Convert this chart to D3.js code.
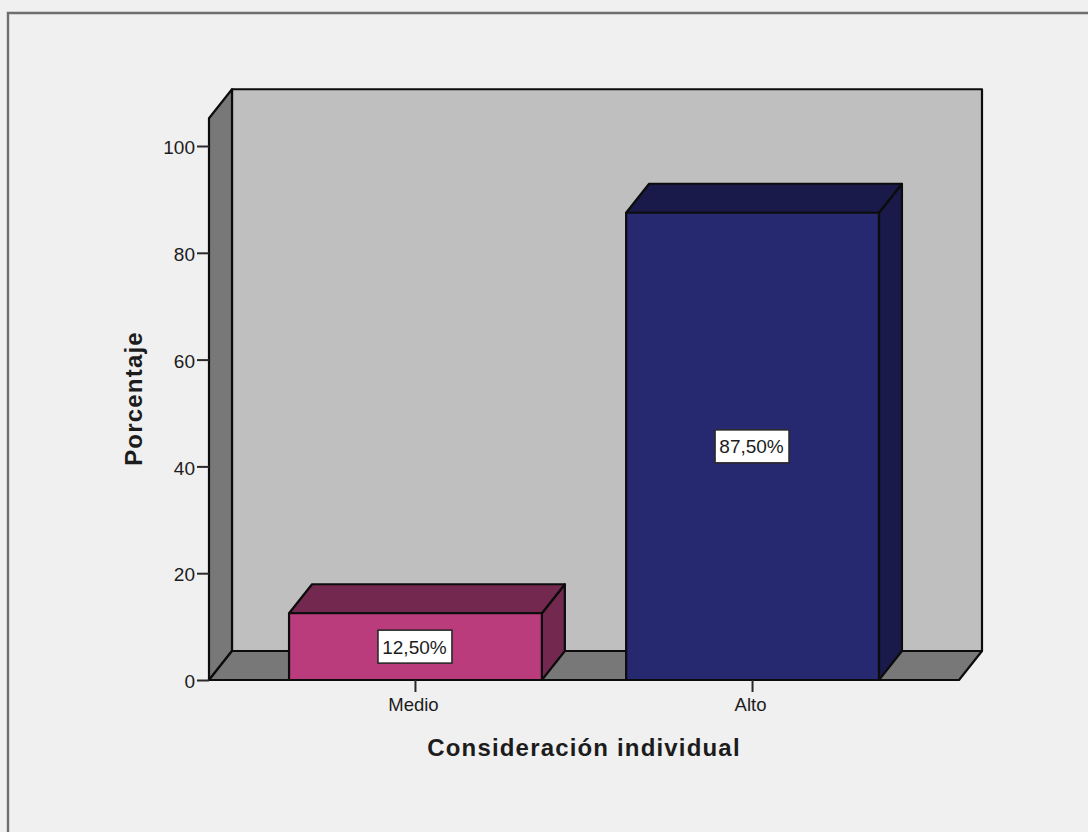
<!DOCTYPE html>
<html><head><meta charset="utf-8">
<script src="https://cdn.jsdelivr.net/npm/d3@7"></script>
<style>html,body{margin:0;padding:0;background:#f0f0f0}svg{display:block}text{font-family:"Liberation Sans",Arial,sans-serif;fill:#1c1c1c}</style>
</head><body><svg id="c" width="1088" height="832"></svg>
<script>
const categories = ["Medio", "Alto"];
const values = [12.5, 87.5];
const valueLabels = ["12,50%", "87,50%"];
const yTicks = [0, 20, 40, 60, 80, 100];
const frontColors = ["#bb3c7c", "#262870"];
const topColors = ["#73284f", "#191a4a"];
const yTitle = "Porcentaje";
const xTitle = "Consideración individual";

const svg = d3.select("#c");
const W = 1088, H = 832;
const x0 = 209, x1 = 959, yBase = 680, yHundred = 146;
const dx = 23, dy = -29;
const y = d3.scaleLinear().domain([0, 100]).range([yBase, yHundred]);
const yMax = 105.2;
const x = d3.scaleBand().domain(categories).range([x0, x1]).paddingInner(0.25).paddingOuter(0.2375);
const stroke = "#0c0c0c";
const poly = (pts, fill, sw = 2.2) => svg.append("path")
  .attr("d", d3.line()(pts) + "Z").attr("fill", fill)
  .attr("stroke", stroke).attr("stroke-width", sw).attr("stroke-linejoin", "round");

// outer frame (open on right and bottom)
svg.append("path").attr("d", `M8,${H}V13H${W}`).attr("fill", "none").attr("stroke", "#6e6e6e").attr("stroke-width", 2.4);

const wallTop = y(yMax);
// back wall, side wall, floor
poly([[x0+dx, yBase+dy], [x1+dx, yBase+dy], [x1+dx, wallTop+dy], [x0+dx, wallTop+dy]], "#bfbfbf");
poly([[x0, yBase], [x0+dx, yBase+dy], [x0+dx, wallTop+dy], [x0, wallTop]], "#787878");
poly([[x0, yBase], [x1, yBase], [x1+dx, yBase+dy], [x0+dx, yBase+dy]], "#787878");

// bars
categories.forEach((c, i) => {
  const l = x(c), r = l + x.bandwidth(), t = y(values[i]);
  poly([[r, yBase], [r+dx, yBase+dy], [r+dx, t+dy], [r, t]], topColors[i]);
  poly([[l, t], [r, t], [r+dx, t+dy], [l+dx, t+dy]], topColors[i]);
  poly([[l, yBase], [r, yBase], [r, t], [l, t]], frontColors[i]);
});

// value labels
categories.forEach((c, i) => {
  const cx = x(c) + x.bandwidth()/2, cy = (y(values[i]) + yBase)/2;
  svg.append("rect").attr("x", cx-37.5).attr("y", cy-16.5).attr("width", 74).attr("height", 33)
    .attr("fill", "#fff").attr("stroke", "#2a2a2a").attr("stroke-width", 1.6);
  svg.append("text").attr("x", cx-1).attr("y", cy+7).attr("text-anchor", "middle")
    .attr("font-size", 19).text(valueLabels[i]);
});

// axes
const axisL = d3.axisLeft(y).tickValues(yTicks).tickSize(12).tickPadding(2);
const gy = svg.append("g").attr("transform", `translate(${x0},0)`).call(axisL);
gy.select(".domain").remove();
gy.selectAll("line").attr("stroke", "#2a2a2a").attr("stroke-width", 2);
gy.selectAll("text").attr("font-size", 19).attr("font-family", '"Liberation Sans"').attr("fill", "#1c1c1c").attr("dy", "0.4em");

const axisB = d3.axisBottom(x).tickSize(12).tickPadding(4);
const gx = svg.append("g").attr("transform", `translate(0,${yBase})`).call(axisB);
gx.select(".domain").remove();
gx.selectAll("line").attr("stroke", "#2a2a2a").attr("stroke-width", 2);
gx.selectAll("text").attr("font-size", 18.5).attr("font-family", '"Liberation Sans"').attr("fill", "#1c1c1c").attr("dx", -2).attr("dy", "0.8em");

// titles
svg.append("text").attr("x", 584).attr("y", 756).attr("text-anchor", "middle")
  .attr("font-size", 24).attr("font-weight", "bold").attr("letter-spacing", 1.17).text(xTitle);
svg.append("text").attr("transform", "translate(142,398.5) rotate(-90)").attr("text-anchor", "middle")
  .attr("font-size", 24).attr("font-weight", "bold").attr("letter-spacing", 1.2).text(yTitle);
</script></body></html>
